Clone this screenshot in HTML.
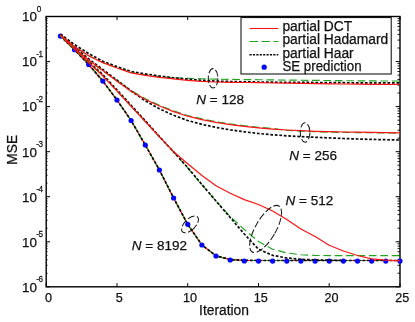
<!DOCTYPE html>
<html><head><meta charset="utf-8"><title>MSE vs Iteration</title>
<style>
html,body{margin:0;padding:0;background:#fff;}
body{width:415px;height:322px;overflow:hidden;}
svg{display:block;will-change:transform;}
text{font-family:"Liberation Sans",sans-serif;fill:#111;stroke:#111;stroke-width:0.25px;}
</style></head><body>
<svg width="415" height="322" viewBox="0 0 415 322">
<rect x="0" y="0" width="415" height="322" fill="#fff"/>
<rect x="46.2" y="16.5" width="353.8" height="270.3" fill="none" stroke="#000" stroke-width="1.4"/>
<path d="M46.2,286.8 v-3.6 M46.2,16.5 v3.6" stroke="#000" stroke-width="1"/>
<path d="M117.0,286.8 v-3.6 M117.0,16.5 v3.6" stroke="#000" stroke-width="1"/>
<path d="M187.7,286.8 v-3.6 M187.7,16.5 v3.6" stroke="#000" stroke-width="1"/>
<path d="M258.5,286.8 v-3.6 M258.5,16.5 v3.6" stroke="#000" stroke-width="1"/>
<path d="M329.2,286.8 v-3.6 M329.2,16.5 v3.6" stroke="#000" stroke-width="1"/>
<path d="M400.0,286.8 v-3.6 M400.0,16.5 v3.6" stroke="#000" stroke-width="1"/>
<path d="M46.2,16.5 h3.8 M400.0,16.5 h-4.3" stroke="#000" stroke-width="1"/>
<path d="M46.2,48.0 h1.7" stroke="#000" stroke-width="0.6"/><path d="M400.0,48.0 h-2.5" stroke="#000" stroke-width="0.9"/>
<path d="M46.2,40.1 h1.7" stroke="#000" stroke-width="0.6"/><path d="M400.0,40.1 h-2.5" stroke="#000" stroke-width="0.9"/>
<path d="M46.2,34.4 h1.7" stroke="#000" stroke-width="0.6"/><path d="M400.0,34.4 h-2.5" stroke="#000" stroke-width="0.9"/>
<path d="M46.2,30.1 h1.7" stroke="#000" stroke-width="0.6"/><path d="M400.0,30.1 h-2.5" stroke="#000" stroke-width="0.9"/>
<path d="M46.2,26.5 h1.7" stroke="#000" stroke-width="0.6"/><path d="M400.0,26.5 h-2.5" stroke="#000" stroke-width="0.9"/>
<path d="M46.2,23.5 h1.7" stroke="#000" stroke-width="0.6"/><path d="M400.0,23.5 h-2.5" stroke="#000" stroke-width="0.9"/>
<path d="M46.2,20.9 h1.7" stroke="#000" stroke-width="0.6"/><path d="M400.0,20.9 h-2.5" stroke="#000" stroke-width="0.9"/>
<path d="M46.2,18.6 h1.7" stroke="#000" stroke-width="0.6"/><path d="M400.0,18.6 h-2.5" stroke="#000" stroke-width="0.9"/>
<path d="M46.2,61.6 h3.8 M400.0,61.6 h-4.3" stroke="#000" stroke-width="1"/>
<path d="M46.2,93.0 h1.7" stroke="#000" stroke-width="0.6"/><path d="M400.0,93.0 h-2.5" stroke="#000" stroke-width="0.9"/>
<path d="M46.2,85.1 h1.7" stroke="#000" stroke-width="0.6"/><path d="M400.0,85.1 h-2.5" stroke="#000" stroke-width="0.9"/>
<path d="M46.2,79.5 h1.7" stroke="#000" stroke-width="0.6"/><path d="M400.0,79.5 h-2.5" stroke="#000" stroke-width="0.9"/>
<path d="M46.2,75.1 h1.7" stroke="#000" stroke-width="0.6"/><path d="M400.0,75.1 h-2.5" stroke="#000" stroke-width="0.9"/>
<path d="M46.2,71.5 h1.7" stroke="#000" stroke-width="0.6"/><path d="M400.0,71.5 h-2.5" stroke="#000" stroke-width="0.9"/>
<path d="M46.2,68.5 h1.7" stroke="#000" stroke-width="0.6"/><path d="M400.0,68.5 h-2.5" stroke="#000" stroke-width="0.9"/>
<path d="M46.2,65.9 h1.7" stroke="#000" stroke-width="0.6"/><path d="M400.0,65.9 h-2.5" stroke="#000" stroke-width="0.9"/>
<path d="M46.2,63.6 h1.7" stroke="#000" stroke-width="0.6"/><path d="M400.0,63.6 h-2.5" stroke="#000" stroke-width="0.9"/>
<path d="M46.2,106.6 h3.8 M400.0,106.6 h-4.3" stroke="#000" stroke-width="1"/>
<path d="M46.2,138.1 h1.7" stroke="#000" stroke-width="0.6"/><path d="M400.0,138.1 h-2.5" stroke="#000" stroke-width="0.9"/>
<path d="M46.2,130.2 h1.7" stroke="#000" stroke-width="0.6"/><path d="M400.0,130.2 h-2.5" stroke="#000" stroke-width="0.9"/>
<path d="M46.2,124.5 h1.7" stroke="#000" stroke-width="0.6"/><path d="M400.0,124.5 h-2.5" stroke="#000" stroke-width="0.9"/>
<path d="M46.2,120.2 h1.7" stroke="#000" stroke-width="0.6"/><path d="M400.0,120.2 h-2.5" stroke="#000" stroke-width="0.9"/>
<path d="M46.2,116.6 h1.7" stroke="#000" stroke-width="0.6"/><path d="M400.0,116.6 h-2.5" stroke="#000" stroke-width="0.9"/>
<path d="M46.2,113.6 h1.7" stroke="#000" stroke-width="0.6"/><path d="M400.0,113.6 h-2.5" stroke="#000" stroke-width="0.9"/>
<path d="M46.2,111.0 h1.7" stroke="#000" stroke-width="0.6"/><path d="M400.0,111.0 h-2.5" stroke="#000" stroke-width="0.9"/>
<path d="M46.2,108.7 h1.7" stroke="#000" stroke-width="0.6"/><path d="M400.0,108.7 h-2.5" stroke="#000" stroke-width="0.9"/>
<path d="M46.2,151.7 h3.8 M400.0,151.7 h-4.3" stroke="#000" stroke-width="1"/>
<path d="M46.2,183.1 h1.7" stroke="#000" stroke-width="0.6"/><path d="M400.0,183.1 h-2.5" stroke="#000" stroke-width="0.9"/>
<path d="M46.2,175.2 h1.7" stroke="#000" stroke-width="0.6"/><path d="M400.0,175.2 h-2.5" stroke="#000" stroke-width="0.9"/>
<path d="M46.2,169.6 h1.7" stroke="#000" stroke-width="0.6"/><path d="M400.0,169.6 h-2.5" stroke="#000" stroke-width="0.9"/>
<path d="M46.2,165.2 h1.7" stroke="#000" stroke-width="0.6"/><path d="M400.0,165.2 h-2.5" stroke="#000" stroke-width="0.9"/>
<path d="M46.2,161.6 h1.7" stroke="#000" stroke-width="0.6"/><path d="M400.0,161.6 h-2.5" stroke="#000" stroke-width="0.9"/>
<path d="M46.2,158.6 h1.7" stroke="#000" stroke-width="0.6"/><path d="M400.0,158.6 h-2.5" stroke="#000" stroke-width="0.9"/>
<path d="M46.2,156.0 h1.7" stroke="#000" stroke-width="0.6"/><path d="M400.0,156.0 h-2.5" stroke="#000" stroke-width="0.9"/>
<path d="M46.2,153.7 h1.7" stroke="#000" stroke-width="0.6"/><path d="M400.0,153.7 h-2.5" stroke="#000" stroke-width="0.9"/>
<path d="M46.2,196.7 h3.8 M400.0,196.7 h-4.3" stroke="#000" stroke-width="1"/>
<path d="M46.2,228.2 h1.7" stroke="#000" stroke-width="0.6"/><path d="M400.0,228.2 h-2.5" stroke="#000" stroke-width="0.9"/>
<path d="M46.2,220.3 h1.7" stroke="#000" stroke-width="0.6"/><path d="M400.0,220.3 h-2.5" stroke="#000" stroke-width="0.9"/>
<path d="M46.2,214.6 h1.7" stroke="#000" stroke-width="0.6"/><path d="M400.0,214.6 h-2.5" stroke="#000" stroke-width="0.9"/>
<path d="M46.2,210.3 h1.7" stroke="#000" stroke-width="0.6"/><path d="M400.0,210.3 h-2.5" stroke="#000" stroke-width="0.9"/>
<path d="M46.2,206.7 h1.7" stroke="#000" stroke-width="0.6"/><path d="M400.0,206.7 h-2.5" stroke="#000" stroke-width="0.9"/>
<path d="M46.2,203.7 h1.7" stroke="#000" stroke-width="0.6"/><path d="M400.0,203.7 h-2.5" stroke="#000" stroke-width="0.9"/>
<path d="M46.2,201.1 h1.7" stroke="#000" stroke-width="0.6"/><path d="M400.0,201.1 h-2.5" stroke="#000" stroke-width="0.9"/>
<path d="M46.2,198.8 h1.7" stroke="#000" stroke-width="0.6"/><path d="M400.0,198.8 h-2.5" stroke="#000" stroke-width="0.9"/>
<path d="M46.2,241.8 h3.8 M400.0,241.8 h-4.3" stroke="#000" stroke-width="1"/>
<path d="M46.2,273.2 h1.7" stroke="#000" stroke-width="0.6"/><path d="M400.0,273.2 h-2.5" stroke="#000" stroke-width="0.9"/>
<path d="M46.2,265.3 h1.7" stroke="#000" stroke-width="0.6"/><path d="M400.0,265.3 h-2.5" stroke="#000" stroke-width="0.9"/>
<path d="M46.2,259.7 h1.7" stroke="#000" stroke-width="0.6"/><path d="M400.0,259.7 h-2.5" stroke="#000" stroke-width="0.9"/>
<path d="M46.2,255.3 h1.7" stroke="#000" stroke-width="0.6"/><path d="M400.0,255.3 h-2.5" stroke="#000" stroke-width="0.9"/>
<path d="M46.2,251.7 h1.7" stroke="#000" stroke-width="0.6"/><path d="M400.0,251.7 h-2.5" stroke="#000" stroke-width="0.9"/>
<path d="M46.2,248.7 h1.7" stroke="#000" stroke-width="0.6"/><path d="M400.0,248.7 h-2.5" stroke="#000" stroke-width="0.9"/>
<path d="M46.2,246.1 h1.7" stroke="#000" stroke-width="0.6"/><path d="M400.0,246.1 h-2.5" stroke="#000" stroke-width="0.9"/>
<path d="M46.2,243.8 h1.7" stroke="#000" stroke-width="0.6"/><path d="M400.0,243.8 h-2.5" stroke="#000" stroke-width="0.9"/>
<path d="M46.2,286.8 h3.8 M400.0,286.8 h-4.3" stroke="#000" stroke-width="1"/>
<path d="M60.4,36.1 L74.5,49.7 L88.7,64.5 L102.8,81.0 L117.0,100.0 L131.1,120.5 L145.3,145.0 L159.4,170.0 L173.6,198.0 L187.7,224.3 L201.9,245.0 L216.0,255.8 L230.2,259.6 L244.3,260.4 L258.5,260.5 L272.6,260.5 L286.8,260.5 L300.9,260.5 L315.1,260.5 L329.2,260.5 L343.4,260.5 L357.5,260.5 L371.7,260.5 L385.8,260.5 L400.0,260.5" fill="none" stroke="#fa1414" stroke-width="1.2" stroke-linejoin="round"/>
<path d="M60.4,36.1 L74.5,49.7 L88.7,64.5 L102.8,81.0 L117.0,100.0 L131.1,120.5 L145.3,145.0 L159.4,170.0 L173.6,198.0 L187.7,224.3 L201.9,245.0 L216.0,255.8 L230.2,259.6 L244.3,260.4 L258.5,260.5 L272.6,260.5 L286.8,260.5 L300.9,260.5 L315.1,260.5 L329.2,260.5 L343.4,260.5 L357.5,260.5 L371.7,260.5 L385.8,260.5 L400.0,260.5" fill="none" stroke="#1ea41e" stroke-width="1.15" stroke-dasharray="7.7 3.7" stroke-linejoin="round"/>
<path d="M60.4,36.1 L74.5,49.7 L88.7,64.5 L102.8,81.0 L117.0,100.0 L131.1,120.5 L145.3,145.0 L159.4,170.0 L173.6,198.0 L187.7,224.3 L201.9,245.0 L216.0,255.8 L230.2,259.6 L244.3,260.4 L258.5,260.5 L272.6,260.5 L286.8,260.5 L300.9,260.5 L315.1,260.5 L329.2,260.5 L343.4,260.5 L357.5,260.5 L371.7,260.5 L385.8,260.5 L400.0,260.5" fill="none" stroke="#080808" stroke-width="1.7" stroke-dasharray="2.7 1.8" stroke-linejoin="round"/>
<circle cx="60.4" cy="36.1" r="2.6" fill="#0606f8"/>
<circle cx="74.5" cy="49.7" r="2.6" fill="#0606f8"/>
<circle cx="88.7" cy="64.5" r="2.6" fill="#0606f8"/>
<circle cx="102.8" cy="81.0" r="2.6" fill="#0606f8"/>
<circle cx="117.0" cy="100.0" r="2.6" fill="#0606f8"/>
<circle cx="131.1" cy="120.5" r="2.6" fill="#0606f8"/>
<circle cx="145.3" cy="145.0" r="2.6" fill="#0606f8"/>
<circle cx="159.4" cy="170.0" r="2.6" fill="#0606f8"/>
<circle cx="173.6" cy="198.0" r="2.6" fill="#0606f8"/>
<circle cx="187.7" cy="224.3" r="2.6" fill="#0606f8"/>
<circle cx="201.9" cy="245.0" r="2.6" fill="#0606f8"/>
<circle cx="216.0" cy="256.0" r="2.6" fill="#0606f8"/>
<circle cx="230.2" cy="260.0" r="2.6" fill="#0606f8"/>
<circle cx="244.3" cy="261.0" r="2.6" fill="#0606f8"/>
<circle cx="258.5" cy="261.1" r="2.6" fill="#0606f8"/>
<circle cx="272.6" cy="261.1" r="2.6" fill="#0606f8"/>
<circle cx="286.8" cy="261.1" r="2.6" fill="#0606f8"/>
<circle cx="300.9" cy="261.1" r="2.6" fill="#0606f8"/>
<circle cx="315.1" cy="261.1" r="2.6" fill="#0606f8"/>
<circle cx="329.2" cy="261.1" r="2.6" fill="#0606f8"/>
<circle cx="343.4" cy="261.1" r="2.6" fill="#0606f8"/>
<circle cx="357.5" cy="261.1" r="2.6" fill="#0606f8"/>
<circle cx="371.7" cy="261.1" r="2.6" fill="#0606f8"/>
<circle cx="385.8" cy="261.1" r="2.6" fill="#0606f8"/>
<circle cx="400.0" cy="261.1" r="2.6" fill="#0606f8"/>
<path d="M60.4,35.6 L74.5,49.2 L88.7,62.5 L102.8,75.8 L117.0,91.0 L131.1,106.3 L145.3,121.5 L159.4,136.8 L173.6,152.0 L187.7,168.0 L201.9,184.8 L216.0,201.0 L230.2,216.5 L244.3,229.5 L258.5,241.5 L272.6,249.2 L286.8,253.0 L300.9,254.7 L315.1,255.4 L329.2,255.6 L343.4,255.6 L357.5,255.6 L371.7,255.6 L385.8,255.6 L400.0,255.6" fill="none" stroke="#1ea41e" stroke-width="1.15" stroke-dasharray="7.7 3.7" stroke-linejoin="round"/>
<path d="M60.4,35.2 L74.5,48.3 L88.7,61.4 L102.8,74.7 L117.0,89.9 L131.1,105.3 L145.3,120.7 L159.4,136.5 L173.6,151.9 L187.7,167.6 L201.9,184.5 L216.0,201.0 L230.2,217.5 L244.3,234.0 L258.5,249.3 L272.6,255.3 L286.8,258.0 L300.9,259.3 L315.1,259.9 L329.2,260.2 L343.4,260.4" fill="none" stroke="#080808" stroke-width="1.7" stroke-dasharray="2.7 1.8" stroke-linejoin="round"/>
<path d="M60.4,35.6 L74.5,49.2 L88.7,62.5 L102.8,75.8 L117.0,91.0 L131.1,106.3 L145.3,121.5 L159.4,136.8 L173.6,151.7 L187.7,163.7 L201.9,175.5 L216.0,185.8 L230.2,193.2 L244.3,199.6 L258.5,204.5 L272.6,211.0 L286.8,219.5 L300.9,229.0 L315.1,236.5 L329.2,245.3 L343.4,251.0 L357.5,255.5 L371.7,258.8 L385.8,260.2 L400.0,260.8" fill="none" stroke="#fa1414" stroke-width="1.2" stroke-linejoin="round"/>
<path d="M60.4,35.7 L74.5,48.5 L88.7,60.4 L102.8,71.0 L117.0,80.5 L131.1,90.5 L145.3,98.8 L159.4,105.3 L173.6,110.9 L187.7,115.5 L201.9,118.9 L216.0,121.7 L230.2,123.9 L244.3,125.7 L258.5,127.2 L272.6,128.4 L286.8,130.4 L300.9,131.1 L315.1,131.7 L329.2,132.1 L343.4,132.4 L357.5,132.6 L371.7,132.8 L385.8,133.0 L400.0,133.2" fill="none" stroke="#1ea41e" stroke-width="1.15" stroke-dasharray="7.7 3.7" stroke-linejoin="round"/>
<path d="M60.4,34.7 L74.5,47.1 L88.7,58.9 L102.8,69.5 L117.0,80.2 L131.1,91.0 L145.3,100.8 L159.4,108.8 L173.6,115.3 L187.7,120.5 L201.9,124.4 L216.0,127.4 L230.2,129.8 L244.3,131.8 L258.5,133.5 L272.6,134.8 L286.8,135.8 L300.9,136.6 L315.1,137.3 L329.2,137.9 L343.4,138.5 L357.5,139.0 L371.7,139.4 L385.8,139.7 L400.0,140.0" fill="none" stroke="#080808" stroke-width="1.7" stroke-dasharray="2.7 1.8" stroke-linejoin="round"/>
<path d="M60.4,35.3 L74.5,48.1 L88.7,60.0 L102.8,70.6 L117.0,81.2 L131.1,91.2 L145.3,99.5 L159.4,106.0 L173.6,111.6 L187.7,116.2 L201.9,119.6 L216.0,122.4 L230.2,124.6 L244.3,126.4 L258.5,127.9 L272.6,129.1 L286.8,130.0 L300.9,130.7 L315.1,131.3 L329.2,131.7 L343.4,132.0 L357.5,132.2 L371.7,132.4 L385.8,132.6 L400.0,132.8" fill="none" stroke="#fa1414" stroke-width="1.2" stroke-linejoin="round"/>
<path d="M60.4,34.8 L74.5,46.6 L88.7,55.8 L102.8,62.6 L117.0,67.8 L131.1,72.3 L145.3,74.8 L159.4,76.6 L173.6,77.7 L187.7,78.3 L201.9,78.8 L216.0,79.1 L230.2,79.4 L244.3,79.6 L258.5,79.7 L272.6,79.9 L286.8,80.1 L300.9,80.2 L315.1,80.4 L329.2,80.5 L343.4,80.7 L357.5,80.8 L371.7,80.9 L385.8,81.0 L400.0,81.0" fill="none" stroke="#1ea41e" stroke-width="1.15" stroke-dasharray="7.7 3.7" stroke-linejoin="round"/>
<path d="M60.4,34.1 L74.5,44.6 L88.7,53.6 L102.8,61.2 L117.0,66.6 L131.1,71.5 L145.3,73.9 L159.4,76.0 L173.6,77.8 L187.7,79.2 L201.9,80.4 L216.0,81.1 L230.2,81.5 L244.3,81.8 L258.5,82.0 L272.6,82.2 L286.8,82.3 L300.9,82.4 L315.1,82.5 L329.2,82.6 L343.4,82.7 L357.5,82.8 L371.7,82.8 L385.8,82.9 L400.0,82.9" fill="none" stroke="#080808" stroke-width="1.7" stroke-dasharray="2.7 1.8" stroke-linejoin="round"/>
<path d="M60.4,34.8 L74.5,46.6 L88.7,55.8 L102.8,62.6 L117.0,68.0 L131.1,72.9 L145.3,75.3 L159.4,77.4 L173.6,78.9 L187.7,80.3 L201.9,81.4 L216.0,82.0 L230.2,82.3 L244.3,82.5 L258.5,82.7 L272.6,83.0 L286.8,83.2 L300.9,83.4 L315.1,83.6 L329.2,83.8 L343.4,84.0 L357.5,84.1 L371.7,84.3 L385.8,84.4 L400.0,84.5" fill="none" stroke="#fa1414" stroke-width="1.2" stroke-linejoin="round"/>
<text x="48.5" y="302.1" font-size="12.6" text-anchor="middle">0</text>
<text x="119.3" y="302.1" font-size="12.6" text-anchor="middle">5</text>
<text x="190.0" y="302.1" font-size="12.6" text-anchor="middle">10</text>
<text x="260.8" y="302.1" font-size="12.6" text-anchor="middle">15</text>
<text x="331.5" y="302.1" font-size="12.6" text-anchor="middle">20</text>
<text x="402.3" y="302.1" font-size="12.6" text-anchor="middle">25</text>
<text x="37.0" y="21.3" font-size="13.4" text-anchor="end">10</text>
<text transform="translate(36.7,11.9) scale(0.86,1)" font-size="9.5" letter-spacing="-0.4" text-anchor="start">0</text>
<text x="37.0" y="66.4" font-size="13.4" text-anchor="end">10</text>
<text transform="translate(36.2,57.0) scale(0.86,1)" font-size="9.5" letter-spacing="-0.4" text-anchor="start">-1</text>
<text x="37.0" y="111.4" font-size="13.4" text-anchor="end">10</text>
<text transform="translate(36.2,102.0) scale(0.86,1)" font-size="9.5" letter-spacing="-0.4" text-anchor="start">-2</text>
<text x="37.0" y="156.5" font-size="13.4" text-anchor="end">10</text>
<text transform="translate(36.2,147.1) scale(0.86,1)" font-size="9.5" letter-spacing="-0.4" text-anchor="start">-3</text>
<text x="37.0" y="201.5" font-size="13.4" text-anchor="end">10</text>
<text transform="translate(36.2,192.1) scale(0.86,1)" font-size="9.5" letter-spacing="-0.4" text-anchor="start">-4</text>
<text x="37.0" y="246.6" font-size="13.4" text-anchor="end">10</text>
<text transform="translate(36.2,237.2) scale(0.86,1)" font-size="9.5" letter-spacing="-0.4" text-anchor="start">-5</text>
<text x="37.0" y="291.6" font-size="13.4" text-anchor="end">10</text>
<text transform="translate(36.2,282.2) scale(0.86,1)" font-size="9.5" letter-spacing="-0.4" text-anchor="start">-6</text>
<text x="224" y="314.8" font-size="13.8" text-anchor="middle">Iteration</text>
<text transform="translate(17.1,149.8) rotate(-90)" font-size="13.8" text-anchor="middle">MSE</text>
<rect x="241" y="17.6" width="150.2" height="56.4" fill="#fff" stroke="#000" stroke-width="1"/>
<path d="M249.5,28.5 H278.3" stroke="#fa1414" stroke-width="1.1"/>
<path d="M249.5,41.5 H278.3" stroke="#1ea41e" stroke-width="1.1" stroke-dasharray="8.4 3.6"/>
<path d="M249.5,54.7 H278.3" stroke="#080808" stroke-width="1.6" stroke-dasharray="2.2 1.2"/>
<circle cx="264.2" cy="67.2" r="2.6" fill="#0606f8"/>
<text x="282.4" y="30.7" font-size="13.8">partial DCT</text>
<text x="282.4" y="44.3" font-size="13.8">partial Hadamard</text>
<text x="282.4" y="57.8" font-size="13.8">partial Haar</text>
<text x="282.4" y="71.2" font-size="13.8" textLength="79.2" lengthAdjust="spacingAndGlyphs">SE prediction</text>
<text x="196.3" y="103.9" font-size="13.5"><tspan font-style="italic">N</tspan> = 128</text>
<text x="289.3" y="160.2" font-size="13.5"><tspan font-style="italic">N</tspan> = 256</text>
<text x="285.6" y="204.8" font-size="13.5"><tspan font-style="italic">N</tspan> = 512</text>
<text x="131.8" y="250.3" font-size="13.5"><tspan font-style="italic">N</tspan> = 8192</text>
<ellipse cx="213.1" cy="78.3" rx="4.8" ry="9.7" transform="rotate(0 213.1 78.3)" fill="none" stroke="#1a1a1a" stroke-width="1.05" stroke-dasharray="7 2.4"/>
<ellipse cx="305.1" cy="132.5" rx="4.8" ry="9.7" transform="rotate(0 305.1 132.5)" fill="none" stroke="#1a1a1a" stroke-width="1.05" stroke-dasharray="7 2.4"/>
<ellipse cx="190.0" cy="224.4" rx="5.5" ry="10.6" transform="rotate(45 190.0 224.4)" fill="none" stroke="#1a1a1a" stroke-width="1.05" stroke-dasharray="7 2.4"/>
<ellipse cx="265.6" cy="229" rx="10.2" ry="26.6" transform="rotate(30 265.6 229)" fill="none" stroke="#1a1a1a" stroke-width="1.05" stroke-dasharray="7 2.4"/>
</svg></body></html>
